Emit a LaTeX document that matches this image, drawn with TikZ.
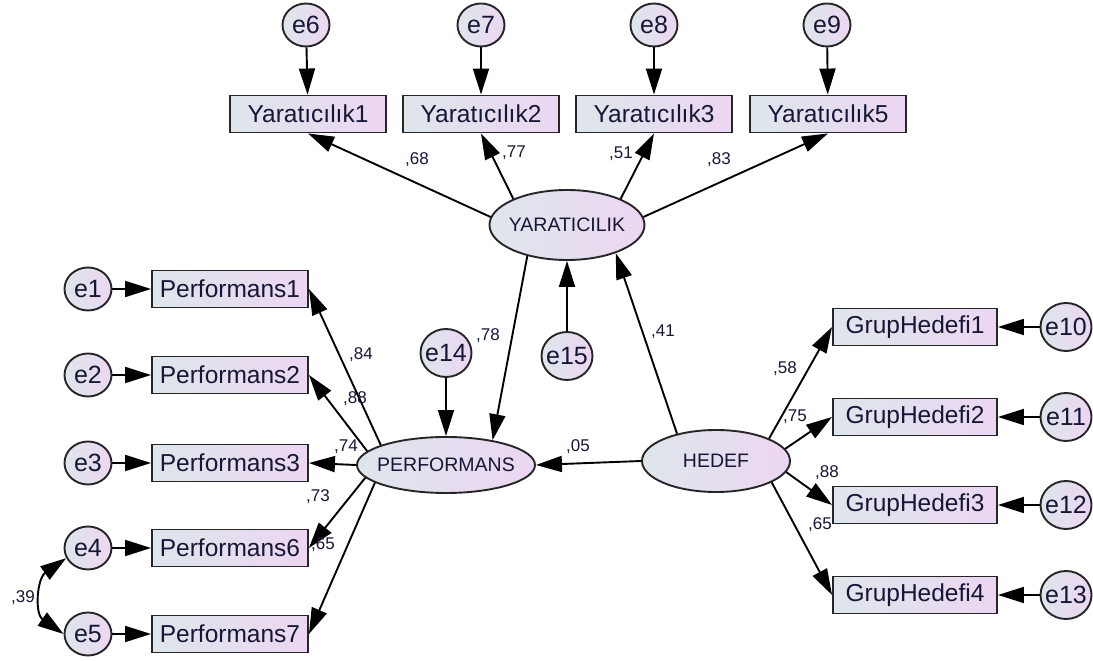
\documentclass[tikz,border=0pt]{standalone}
\usepackage{fontspec}
\setmainfont{Liberation Sans}
\usetikzlibrary{arrows.meta,shapes.geometric}
\definecolor{amosgray}{RGB}{222,230,235}
\definecolor{amoslilac}{RGB}{236,214,242}
\definecolor{amostext}{RGB}{22,22,55}
\tikzset{
  obsbox/.style={draw=black!85, line width=1.9pt, left color=amosgray, right color=amoslilac,
    minimum width=156pt, minimum height=37pt, inner sep=0pt, text=amostext,
    font=\fontsize{24.5}{27}\selectfont},
  latent/.style={ellipse, draw=black!85, line width=1.9pt, left color=amosgray, right color=amoslilac,
    inner xsep=-6pt, inner ysep=0pt, text=amostext, font=\fontsize{19.5}{22}\selectfont},
  errvar/.style={ellipse, draw=black!85, line width=1.9pt, left color=amosgray, right color=amoslilac,
    minimum width=47pt, minimum height=43pt, inner xsep=-6pt, inner ysep=0pt, text=amostext,
    font=\fontsize{25}{28}\selectfont},
  bigerr/.style={errvar, minimum width=51pt, minimum height=48pt},
  regpath/.style={draw=black, line width=1.9pt, -{Triangle[length=26pt,width=16pt]}},
  covpath/.style={draw=black, line width=1.9pt, {Triangle[length=26pt,width=16pt]}-{Triangle[length=26pt,width=16pt]}},
  coef/.style={text=amostext, inner sep=0pt, font=\fontsize{17}{19}\selectfont}
}
\begin{document}
\begin{tikzpicture}[x=1pt,y=1pt]
    \useasboundingbox (0,0) rectangle (1093,661);
%   latent variables
    \node[latent, minimum width=155pt, minimum height=70pt] (yar) at (567,436) {YARATICILIK};
    \node[latent, minimum width=178pt, minimum height=56pt] (perf) at (446,196) {PERFORMANS};
    \node[latent, minimum width=148pt, minimum height=62pt] (hedef) at (716,200) {HEDEF};
%   creativity items
    \node[obsbox] (y1) at (308,547) {Yaratıcılık1};
    \node[obsbox] (y2) at (481,547) {Yaratıcılık2};
    \node[obsbox] (y3) at (654,547) {Yaratıcılık3};
    \node[obsbox] (y5) at (828,547) {Yaratıcılık5};
    \node[errvar] (e6) at (306,636) {e6};
    \node[errvar] (e7) at (481,636) {e7};
    \node[errvar] (e8) at (654,636) {e8};
    \node[errvar] (e9) at (827,636) {e9};
    \draw[regpath] (e6) -- (y1);
    \draw[regpath] (e7) -- (y2);
    \draw[regpath] (e8) -- (y3);
    \draw[regpath] (e9) -- (y5);
    \draw[regpath] (yar.174) -- (y1.south);
    \draw[regpath] (yar.154) -- (y2.south);
    \draw[regpath] (yar.26) -- (y3.south);
    \draw[regpath] (yar.6) -- (y5.south);
%   performance items
    \node[obsbox] (p1) at (230,372) {Performans1};
    \node[obsbox] (p2) at (230,286) {Performans2};
    \node[obsbox] (p3) at (230,198) {Performans3};
    \node[obsbox] (p6) at (230,113) {Performans6};
    \node[obsbox] (p7) at (230,27) {Performans7};
    \node[errvar] (e1) at (88,372) {e1};
    \node[errvar] (e2) at (88,286) {e2};
    \node[errvar] (e3) at (88,198) {e3};
    \node[errvar] (e4) at (88,113) {e4};
    \node[errvar] (e5) at (88,27) {e5};
    \draw[regpath] (e1) -- (p1);
    \draw[regpath] (e2) -- (p2);
    \draw[regpath] (e3) -- (p3);
    \draw[regpath] (e4) -- (p6);
    \draw[regpath] (e5) -- (p7);
    \draw[regpath] (perf.163) -- (p1.east);
    \draw[regpath] (perf.170) -- (p2.east);
    \draw[regpath] (perf.180) -- (p3.east);
    \draw[regpath] (perf.189) -- (p6.east);
    \draw[regpath] (perf.194) -- (p7.east);
    \draw[covpath] (e4.205) to[out=215,in=145,looseness=1.2] (e5.180);
%   goal items
    \node[obsbox, minimum width=164pt] (g1) at (915,334) {GrupHedefi1};
    \node[obsbox, minimum width=164pt] (g2) at (915,244) {GrupHedefi2};
    \node[obsbox, minimum width=164pt] (g3) at (915,156) {GrupHedefi3};
    \node[obsbox, minimum width=164pt] (g4) at (915,66) {GrupHedefi4};
    \node[bigerr] (e10) at (1066,334) {e10};
    \node[bigerr] (e11) at (1066,244) {e11};
    \node[bigerr] (e12) at (1066,156) {e12};
    \node[bigerr] (e13) at (1066,66) {e13};
    \draw[regpath] (e10) -- (g1);
    \draw[regpath] (e11) -- (g2);
    \draw[regpath] (e12) -- (g3);
    \draw[regpath] (e13) -- (g4);
    \draw[regpath] (hedef.23) -- (g1.west);
    \draw[regpath] (hedef.10) -- (g2.west);
    \draw[regpath] (hedef.-9) -- (g3.west);
    \draw[regpath] (hedef.-21) -- (g4.west);
%   structural part
    \node[bigerr] (e14) at (446,308) {e14};
    \node[bigerr] (e15) at (567,305) {e15};
    \draw[regpath] (e14) -- (perf);
    \draw[regpath] (e15) -- (yar);
    \draw[regpath] (yar.218) -- (perf.28);
    \draw[regpath] (hedef.145) -- (yar.330);
    \draw[regpath] (hedef.west) -- (perf.east);
%   coefficients
    \node[coef] (c68) at (417,501) {,68};
    \node[coef] (c77) at (514,508) {,77};
    \node[coef] (c51) at (621,507) {,51};
    \node[coef] (c83) at (719,501) {,83};
    \node[coef] (c78) at (488,325) {,78};
    \node[coef] (c41) at (663,329) {,41};
    \node[coef] (c84) at (361,306) {,84};
    \node[coef] (c88a) at (355,262) {,88};
    \node[coef] (c74) at (346,214) {,74};
    \node[coef] (c73) at (318,164) {,73};
    \node[coef] (c65a) at (323,116) {,65};
    \node[coef] (c05) at (578,214) {,05};
    \node[coef] (c58) at (785,292) {,58};
    \node[coef] (c75) at (795,244) {,75};
    \node[coef] (c88b) at (827,188) {,88};
    \node[coef] (c65b) at (820,136) {,65};
    \node[coef] (c39) at (23,63) {,39};
\end{tikzpicture}
\end{document}
